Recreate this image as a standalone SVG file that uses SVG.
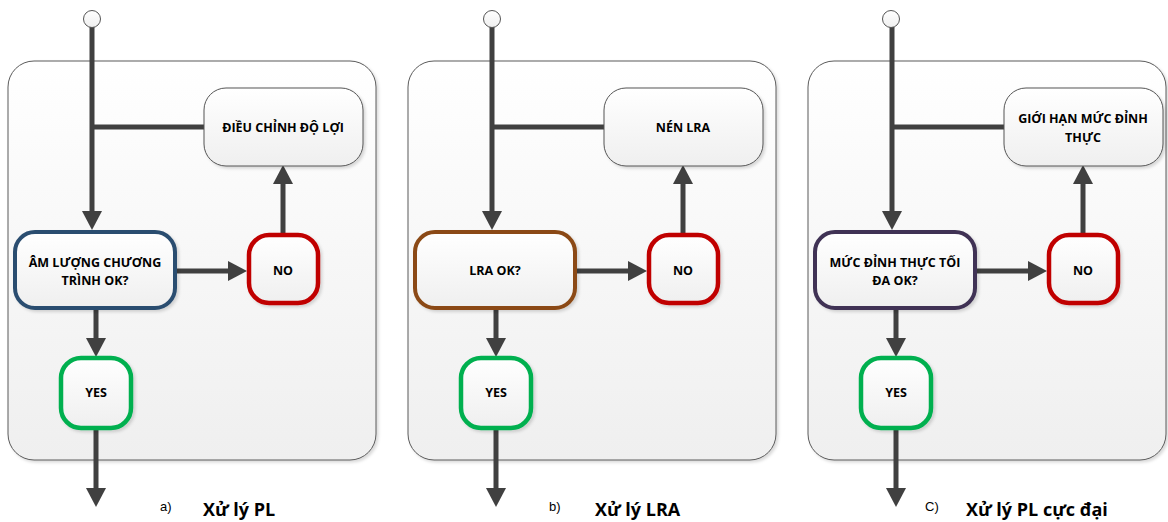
<svg xmlns="http://www.w3.org/2000/svg" width="1168" height="522" viewBox="0 0 1168 522">
<defs>
<linearGradient id="gCont" x1="0" y1="0" x2="0" y2="1"><stop offset="0" stop-color="#ffffff"/><stop offset="1" stop-color="#efefef"/></linearGradient>
<linearGradient id="gNode" x1="0" y1="0" x2="0" y2="1"><stop offset="0" stop-color="#ffffff"/><stop offset="1" stop-color="#efefef"/></linearGradient>
<filter id="sh" x="-10%" y="-10%" width="130%" height="130%"><feDropShadow dx="2" dy="2" stdDeviation="1.5" flood-color="#000" flood-opacity="0.15"/></filter>
<marker id="ah" markerUnits="userSpaceOnUse" markerWidth="19" markerHeight="20" refX="0" refY="10" orient="auto" overflow="visible"><path d="M0,0 L19,10 L0,20 Z" fill="#404040"/></marker>
</defs>
<style>
.cont{fill:url(#gCont);stroke:#5a5a5a;stroke-width:1;filter:url(#sh)}
.box{fill:url(#gNode);stroke:#555;stroke-width:1;filter:url(#sh)}
.dec{fill:url(#gNode);stroke-width:4;filter:url(#sh)}
.no{fill:url(#gNode);stroke:#C00000;stroke-width:4.5;filter:url(#sh)}
.yes{fill:url(#gNode);stroke:#00B050;stroke-width:4.5;filter:url(#sh)}
.start{fill:url(#gNode);stroke:#555;stroke-width:1}
.ln{fill:none;stroke:#404040;stroke-width:5}
.ar{fill:none;stroke:#404040;stroke-width:5;marker-end:url(#ah)}
.t{font-family:"Open Sans","Noto Sans",sans-serif;font-weight:bold;font-size:12.5px;fill:#000;text-anchor:middle}
.lab{font-family:"Liberation Sans",Arial,sans-serif;font-size:13px;fill:#000}
.cap{font-family:"Open Sans","Noto Sans",sans-serif;font-weight:bold;font-size:18px;fill:#000}
</style>

<g id="containers">
<rect id="panel-a" class="cont" x="8" y="61" width="368" height="399" rx="26"/>
<rect id="panel-b" class="cont" x="408" y="61" width="368" height="399" rx="26"/>
<rect id="panel-c" class="cont" x="808" y="61" width="358" height="399" rx="26"/>
</g>

<g id="connectors">
<!-- a -->
<path class="ar" d="M92,27 V211"/>
<path class="ln" d="M205,127 H92"/>
<path class="ar" d="M283,236 V184"/>
<path class="ar" d="M177,271 H228"/>
<path class="ar" d="M96,310 V338"/>
<path class="ar" d="M96,430 V488"/>
<!-- b -->
<path class="ar" d="M492,27 V211"/>
<path class="ln" d="M605,127 H492"/>
<path class="ar" d="M683,236 V184"/>
<path class="ar" d="M577,271 H628"/>
<path class="ar" d="M496,310 V338"/>
<path class="ar" d="M496,430 V488"/>
<!-- c -->
<path class="ar" d="M892,27 V211"/>
<path class="ln" d="M1005,127 H892"/>
<path class="ar" d="M1083,236 V184"/>
<path class="ar" d="M977,271 H1028"/>
<path class="ar" d="M896,310 V338"/>
<path class="ar" d="M896,430 V488"/>
</g>

<!-- Panel a -->
<g id="a-start"><circle class="start" cx="92" cy="19" r="8.5"/></g>
<g id="a-adjust"><rect class="box" x="204" y="88" width="159" height="78" rx="22"/><text class="t" x="283" y="132">ĐIỀU CHỈNH ĐỘ LỢI</text></g>
<g id="a-decision"><rect class="dec" stroke="#2C4E70" x="15" y="232" width="160" height="76" rx="20"/><text class="t" x="95" y="267">ÂM LƯỢNG CHƯƠNG</text><text class="t" x="95" y="285">TRÌNH OK?</text></g>
<g id="a-no"><rect class="no" x="249" y="235" width="69" height="68" rx="20"/><text class="t" x="283" y="275">NO</text></g>
<g id="a-yes"><rect class="yes" x="61" y="358" width="70" height="70" rx="20"/><text class="t" x="96" y="397">YES</text></g>
<g id="a-caption"><text class="lab" x="160" y="511">a)</text><text class="cap" x="203" y="516">Xử lý PL</text></g>

<!-- Panel b -->
<g id="b-start"><circle class="start" cx="492" cy="19" r="8.5"/></g>
<g id="b-compress"><rect class="box" x="604" y="88" width="159" height="78" rx="22"/><text class="t" x="683" y="132">NÉN LRA</text></g>
<g id="b-decision"><rect class="dec" stroke="#8B4A14" x="415" y="232" width="160" height="76" rx="20"/><text class="t" x="495" y="275">LRA OK?</text></g>
<g id="b-no"><rect class="no" x="649" y="235" width="69" height="68" rx="20"/><text class="t" x="683" y="275">NO</text></g>
<g id="b-yes"><rect class="yes" x="461" y="358" width="70" height="70" rx="20"/><text class="t" x="496" y="397">YES</text></g>
<g id="b-caption"><text class="lab" x="549" y="511">b)</text><text class="cap" x="595" y="516">Xử lý LRA</text></g>

<!-- Panel c -->
<g id="c-start"><circle class="start" cx="891" cy="19" r="8.5"/></g>
<g id="c-limit"><rect class="box" x="1004" y="88" width="159" height="78" rx="22"/><text class="t" x="1083" y="123">GIỚI HẠN MỨC ĐỈNH</text><text class="t" x="1083" y="142">THỰC</text></g>
<g id="c-decision"><rect class="dec" stroke="#3F3354" x="815" y="232" width="160" height="76" rx="20"/><text class="t" x="895" y="267">MỨC ĐỈNH THỰC TỐI</text><text class="t" x="895" y="285">ĐA OK?</text></g>
<g id="c-no"><rect class="no" x="1049" y="235" width="69" height="68" rx="20"/><text class="t" x="1083" y="275">NO</text></g>
<g id="c-yes"><rect class="yes" x="861" y="358" width="70" height="70" rx="20"/><text class="t" x="896" y="397">YES</text></g>
<g id="c-caption"><text class="lab" x="925" y="511">C)</text><text class="cap" x="966" y="516">Xử lý PL cực đại</text></g>
</svg>
